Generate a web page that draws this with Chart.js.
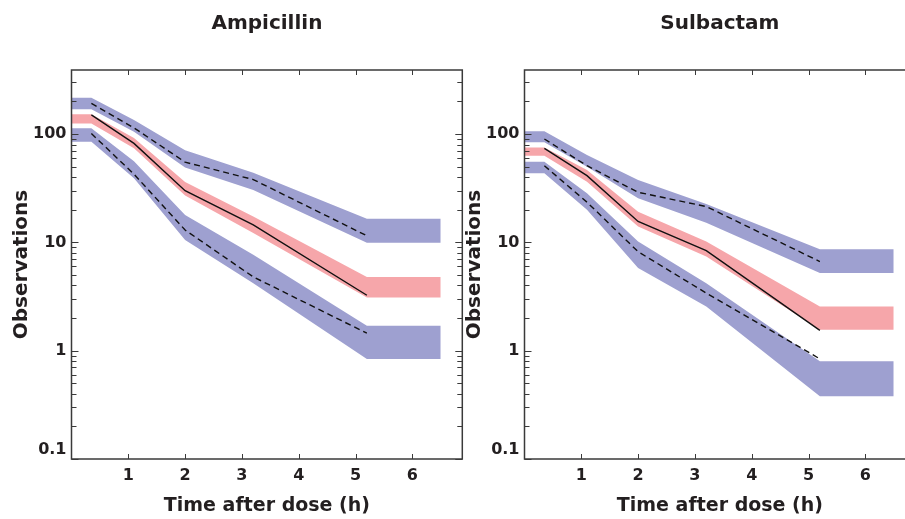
<!DOCTYPE html>
<html>
<head>
<meta charset="utf-8">
<script src="https://cdn.jsdelivr.net/npm/chart.js@4.4.1/dist/chart.umd.min.js"></script>
<style>
  html, body { margin: 0; padding: 0; background: #fff; overflow: hidden; width: 905px; height: 519px; }
  .panel { position: absolute; top: 0; width: 470px; height: 519px; }
</style>
</head>
<body>
<div class="panel" style="left:0"><canvas id="ampChart" width="470" height="519"></canvas></div>
<div class="panel" style="left:453px"><canvas id="sulChart" width="470" height="519"></canvas></div>
<script>
// time points (h)
const bandTimes = [0, 0.35, 1.1, 2.0, 3.2, 5.2, 6.5];
const lineTimes = [0.35, 1.1, 2.0, 3.2, 5.2];
const xTickValues = [1, 2, 3, 4, 5, 6];
const yTickValues = [0.1, 1, 10, 100];

// Ampicillin: prediction intervals (upper, median, lower band)
const ampUpperHi = [216, 216, 135, 71, 44, 16.5, 16.5];
const ampUpperLo = [169, 169, 105, 49, 30.5, 9.9, 9.9];
const ampMedHi = [152, 152, 92, 36, 17.3, 4.8, 4.8];
const ampMedLo = [125, 125, 74, 27, 12.2, 3.1, 3.1];
const ampLowHi = [113, 113, 56, 17.9, 7.7, 1.7, 1.7];
const ampLowLo = [85, 85, 39, 10.5, 4.2, 0.84, 0.84];
// Ampicillin: observed percentiles
const ampObsP95 = [192, 114, 55, 38, 11.5];
const ampObsMed = [150, 82, 30, 14.5, 3.25];
const ampObsP5 = [101, 42.6, 13, 4.8, 1.45];

// Sulbactam
const sulUpperHi = [106, 106, 64, 37.7, 22.6, 8.65, 8.65];
const sulUpperLo = [84, 84, 50, 25.5, 15.2, 5.2, 5.2];
const sulMedHi = [75, 75, 46.6, 19.2, 10.2, 2.56, 2.56];
const sulMedLo = [63, 63, 36.3, 14, 7.4, 1.56, 1.56];
const sulLowHi = [55.6, 55.6, 28.4, 10.2, 4.2, 0.8, 0.8];
const sulLowLo = [43.5, 43.5, 20, 5.8, 2.56, 0.38, 0.38];
const sulObsP95 = [90, 51, 29, 21.4, 6.65];
const sulObsMed = [73.8, 41.3, 15.6, 8.4, 1.54];
const sulObsP5 = [51, 23.5, 8.2, 3.4, 0.84];

const BLUE = 'rgb(158,160,208)';
const PINK = 'rgb(246,166,170)';
const INK = '#231f20';

Chart.defaults.font.family = '"DejaVu Sans", sans-serif';
Chart.defaults.font.weight = 'bold';
Chart.defaults.color = INK;

function pts(xs, ys) {
  return xs.map((x, i) => ({ x: x, y: ys[i] }));
}

function band(lo, hi, color) {
  return [
    { data: pts(bandTimes, lo), borderWidth: 0, pointRadius: 0, fill: false, order: 2 },
    { data: pts(bandTimes, hi), borderWidth: 0, pointRadius: 0, fill: '-1', backgroundColor: color, order: 2 }
  ];
}

function line(ys, dashed) {
  return {
    data: pts(lineTimes, ys),
    borderColor: '#111',
    borderWidth: 1.4,
    borderDash: dashed ? [6, 4] : [],
    pointRadius: 0,
    fill: false,
    order: 0
  };
}

// frame + inward ticks on all four sides
const frameTicks = {
  id: 'frameTicks',
  afterDatasetsDraw(chart) {
    const { ctx, chartArea: a, scales: { x, y } } = chart;
    ctx.save();
    ctx.strokeStyle = '#3a3a3a';
    ctx.lineWidth = 1.5;
    ctx.strokeRect(a.left, a.top, a.right - a.left, a.bottom - a.top);
    ctx.lineWidth = 1;
    ctx.beginPath();
    xTickValues.forEach(v => {
      const px = Math.round(x.getPixelForValue(v)) + 0.5;
      ctx.moveTo(px, a.bottom); ctx.lineTo(px, a.bottom - 5);
      ctx.moveTo(px, a.top); ctx.lineTo(px, a.top + 5);
    });
    yTickValues.forEach(d => {
      for (let m = 1; m <= 9; m++) {
        const v = d * m;
        if (v < y.min || v > y.max) continue;
        const py = Math.round(y.getPixelForValue(v)) + 0.5;
        const len = m === 1 ? 7 : 5;
        ctx.moveTo(a.left, py); ctx.lineTo(a.left + len, py);
        ctx.moveTo(a.right, py); ctx.lineTo(a.right - len, py);
      }
    });
    ctx.stroke();
    ctx.restore();
  }
};

function makeChart(id, title, bands, lines) {
  return new Chart(document.getElementById(id), {
    type: 'line',
    data: {
      datasets: [
        ...band(bands[0], bands[1], BLUE),
        ...band(bands[2], bands[3], PINK),
        ...band(bands[4], bands[5], BLUE),
        line(lines[0], true),
        line(lines[1], false),
        line(lines[2], true)
      ]
    },
    options: {
      responsive: false,
      animation: false,
      devicePixelRatio: 1,
      layout: { padding: { left: 0, right: 7.7, top: 0, bottom: 0 } },
      plugins: {
        legend: { display: false },
        tooltip: { enabled: false },
        title: {
          display: true,
          text: title,
          fullSize: false,
          font: { size: 20, weight: 'bold' },
          padding: { top: 12, bottom: 34 }
        }
      },
      scales: {
        x: {
          type: 'linear',
          min: 0,
          max: 6.88,
          grid: { display: false, drawTicks: false },
          border: { display: false },
          afterBuildTicks: s => { s.ticks = xTickValues.map(v => ({ value: v })); },
          afterFit: s => { s.height = 60; },
          ticks: { padding: 7, font: { size: 16, weight: 'bold' }, maxRotation: 0 },
          title: {
            display: true,
            text: 'Time after dose (h)',
            font: { size: 19, weight: 'bold' },
            padding: { top: 0, bottom: 2 }
          }
        },
        y: {
          type: 'logarithmic',
          min: 0.1,
          max: 390,
          grid: { display: false, drawTicks: false },
          border: { display: false },
          afterBuildTicks: s => { s.ticks = yTickValues.map(v => ({ value: v })); },
          afterFit: s => { s.width = 71.5; },
          ticks: {
            padding: 5,
            font: { size: 16, weight: 'bold' },
            // lowest label sits a little above the corner
            callback: v => (v === 0.1 ? ['0.1', ''] : String(v))
          },
          title: {
            display: true,
            text: 'Observations',
            font: { size: 20, weight: 'bold' },
            padding: { top: 10, bottom: 0 }
          }
        }
      }
    },
    plugins: [frameTicks]
  });
}

makeChart('ampChart', 'Ampicillin',
  [ampUpperLo, ampUpperHi, ampMedLo, ampMedHi, ampLowLo, ampLowHi],
  [ampObsP95, ampObsMed, ampObsP5]);

makeChart('sulChart', 'Sulbactam',
  [sulUpperLo, sulUpperHi, sulMedLo, sulMedHi, sulLowLo, sulLowHi],
  [sulObsP95, sulObsMed, sulObsP5]);
</script>
</body>
</html>
